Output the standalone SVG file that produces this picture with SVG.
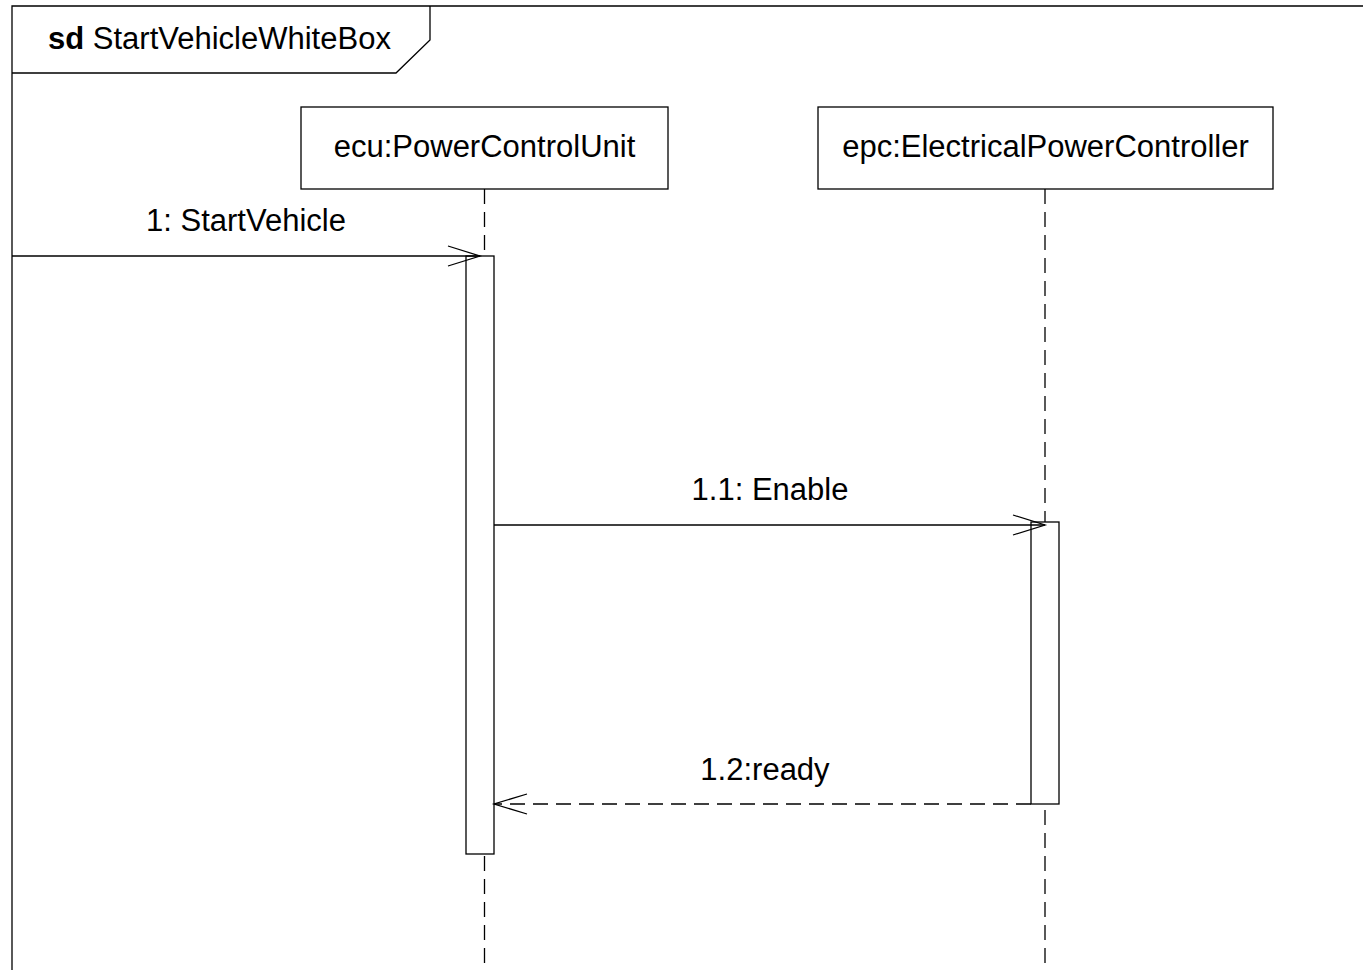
<svg xmlns="http://www.w3.org/2000/svg" width="1363" height="970" viewBox="0 0 1363 970">
<style>
text{font-family:"Liberation Sans",Arial,sans-serif;font-size:31px;fill:#000}
.ln{stroke:#000;stroke-width:1.3;fill:none}
.box{stroke:#000;stroke-width:1.3;fill:#fff}
.life{stroke:#000;stroke-width:1.3;stroke-dasharray:15 8;fill:none}
.msg{stroke:#000;stroke-width:1.3;fill:none}
.ret{stroke:#000;stroke-width:1.3;stroke-dasharray:15 8;fill:none}
</style>
<rect width="1363" height="970" fill="#fff"/>
<g id="frame">
<path class="ln" d="M12,970 V6 H1363"/>
<path class="ln" d="M12,73 H396 L430,40 V6"/>
<text x="48" y="49"><tspan font-weight="bold">sd</tspan> StartVehicleWhiteBox</text>
</g>
<g id="ecu">
<rect class="box" x="301" y="107" width="367" height="82"/>
<text x="484.5" y="157" text-anchor="middle">ecu:PowerControlUnit</text>
<line class="life" x1="484.5" y1="189" x2="484.5" y2="970"/>
<rect class="box" x="466" y="256" width="28" height="598"/>
</g>
<g id="epc">
<rect class="box" x="818" y="107" width="455" height="82"/>
<text x="1045.5" y="157" text-anchor="middle">epc:ElectricalPowerController</text>
<line class="life" x1="1045" y1="189" x2="1045" y2="970"/>
<rect class="box" x="1031" y="522" width="28" height="282"/>
</g>
<g id="connectors">
<g id="m1">
<line class="msg" x1="12" y1="256" x2="480" y2="256"/>
<path class="msg" d="M448,246 L480,256 L448,266"/>
<text x="246" y="231" text-anchor="middle">1: StartVehicle</text>
</g>
<g id="m11">
<line class="msg" x1="494" y1="525" x2="1045" y2="525"/>
<path class="msg" d="M1013,515 L1045,525 L1013,535"/>
<text x="770" y="500" text-anchor="middle">1.1: Enable</text>
</g>
<g id="m12">
<line class="ret" x1="1031" y1="804" x2="494" y2="804"/>
<path class="msg" d="M527,794 L494,804 L527,814"/>
<text x="765" y="780" text-anchor="middle">1.2:ready</text>
</g>
</g>
</svg>
